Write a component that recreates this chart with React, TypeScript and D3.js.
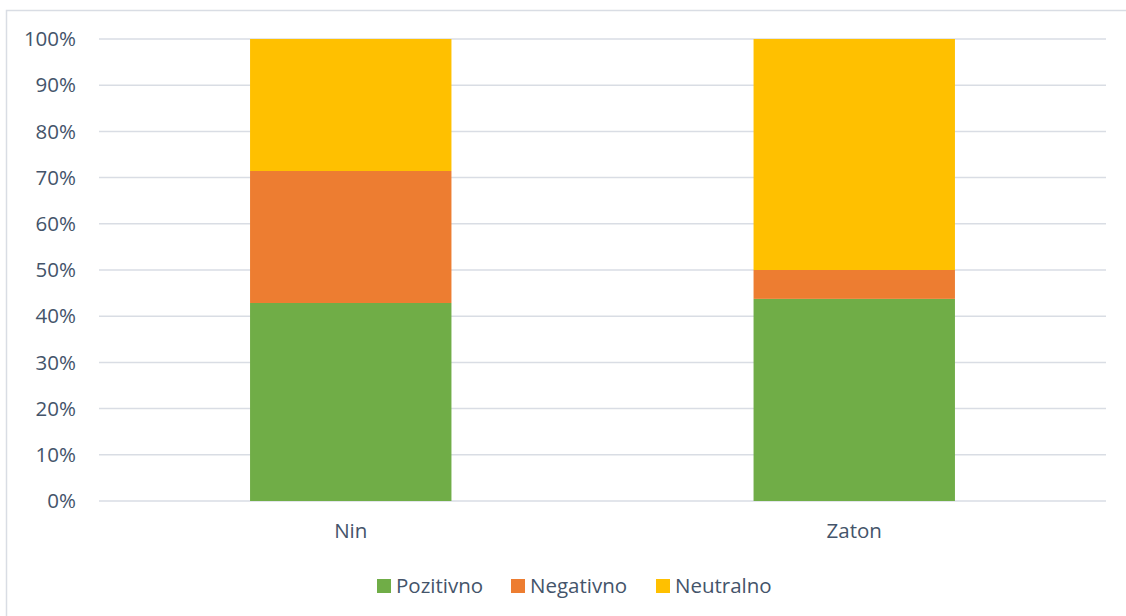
import { useEffect, useRef } from 'react'
import * as d3 from 'd3'

const categories = ['Nin', 'Zaton']
const seriesNames = ['Pozitivno', 'Negativno', 'Neutralno']
const pozitivno = [42.86, 43.75]
const negativno = [28.57, 6.25]
const neutralno = [28.57, 50.0]
const yTicks = [0, 10, 20, 30, 40, 50, 60, 70, 80, 90, 100]

const colors = ['#70AD47', '#ED7D31', '#FFC000']
const textColor = '#44546A'
const gridColor = '#D9DDE4'
const fontSize = 20.5

export default function App() {
  const svgRef = useRef<SVGSVGElement>(null)

  useEffect(() => {
    if (!svgRef.current) return
    const svg = d3.select(svgRef.current)
    svg.selectAll('*').remove()

    const W = 1126
    const H = 616
    const margin = { top: 39, right: 20, bottom: 115, left: 99 }
    const width = 1106 - margin.left
    const height = 501 - margin.top

    svg.append('rect')
      .attr('x', 6.5)
      .attr('y', 10.5)
      .attr('width', W + 10)
      .attr('height', H + 10)
      .attr('fill', '#fff')
      .attr('stroke', gridColor)
      .attr('stroke-width', 1.5)

    const g = svg.append('g').attr('transform', `translate(${margin.left},${margin.top})`)

    const x = d3.scaleBand().domain(categories).range([0, width]).paddingInner(0.6).paddingOuter(0.3)
    const y = d3.scaleLinear().domain([0, 100]).range([height, 0])

    // grid
    g.append('g')
      .selectAll('line')
      .data(yTicks)
      .join('line')
      .attr('x1', 0)
      .attr('x2', width)
      .attr('y1', d => y(d))
      .attr('y2', d => y(d))
      .attr('stroke', gridColor)
      .attr('stroke-width', 1.5)

    // y labels
    g.append('g')
      .selectAll('text')
      .data(yTicks)
      .join('text')
      .attr('x', -23)
      .attr('y', d => y(d))
      .attr('dy', '0.35em')
      .attr('text-anchor', 'end')
      .attr('fill', textColor)
      .attr('font-size', fontSize)
      .text(d => `${d}%`)

    const table = categories.map((c, i) => ({
      cat: c,
      Pozitivno: pozitivno[i],
      Negativno: negativno[i],
      Neutralno: neutralno[i],
    }))
    const stacked = d3.stack<any>().keys(seriesNames)(table)

    stacked.forEach((s, si) => {
      g.append('g')
        .selectAll('rect')
        .data(s)
        .join('rect')
        .attr('x', d => x(d.data.cat)!)
        .attr('width', x.bandwidth())
        .attr('y', d => y(d[1]))
        .attr('height', d => y(d[0]) - y(d[1]))
        .attr('fill', colors[si])
    })

    // x labels
    g.append('g')
      .selectAll('text')
      .data(categories)
      .join('text')
      .attr('x', d => x(d)! + x.bandwidth() / 2)
      .attr('y', height + 30)
      .attr('dy', '0.35em')
      .attr('text-anchor', 'middle')
      .attr('fill', textColor)
      .attr('font-size', fontSize)
      .text(d => d)

    // legend
    const legendX = [377, 511, 656]
    const leg = svg.append('g')
    seriesNames.forEach((name, i) => {
      leg.append('rect')
        .attr('x', legendX[i])
        .attr('y', 579)
        .attr('width', 14)
        .attr('height', 14)
        .attr('fill', colors[i])
      leg.append('text')
        .attr('x', legendX[i] + 19)
        .attr('y', 586)
        .attr('dy', '0.35em')
        .attr('fill', textColor)
        .attr('font-size', fontSize)
        .text(name)
    })
  }, [])

  return (
    <svg
      ref={svgRef}
      width={1126}
      height={616}
      style={{ position: 'absolute', left: 0, top: 0, fontFamily: '"Open Sans", sans-serif' }}
    />
  )
}
